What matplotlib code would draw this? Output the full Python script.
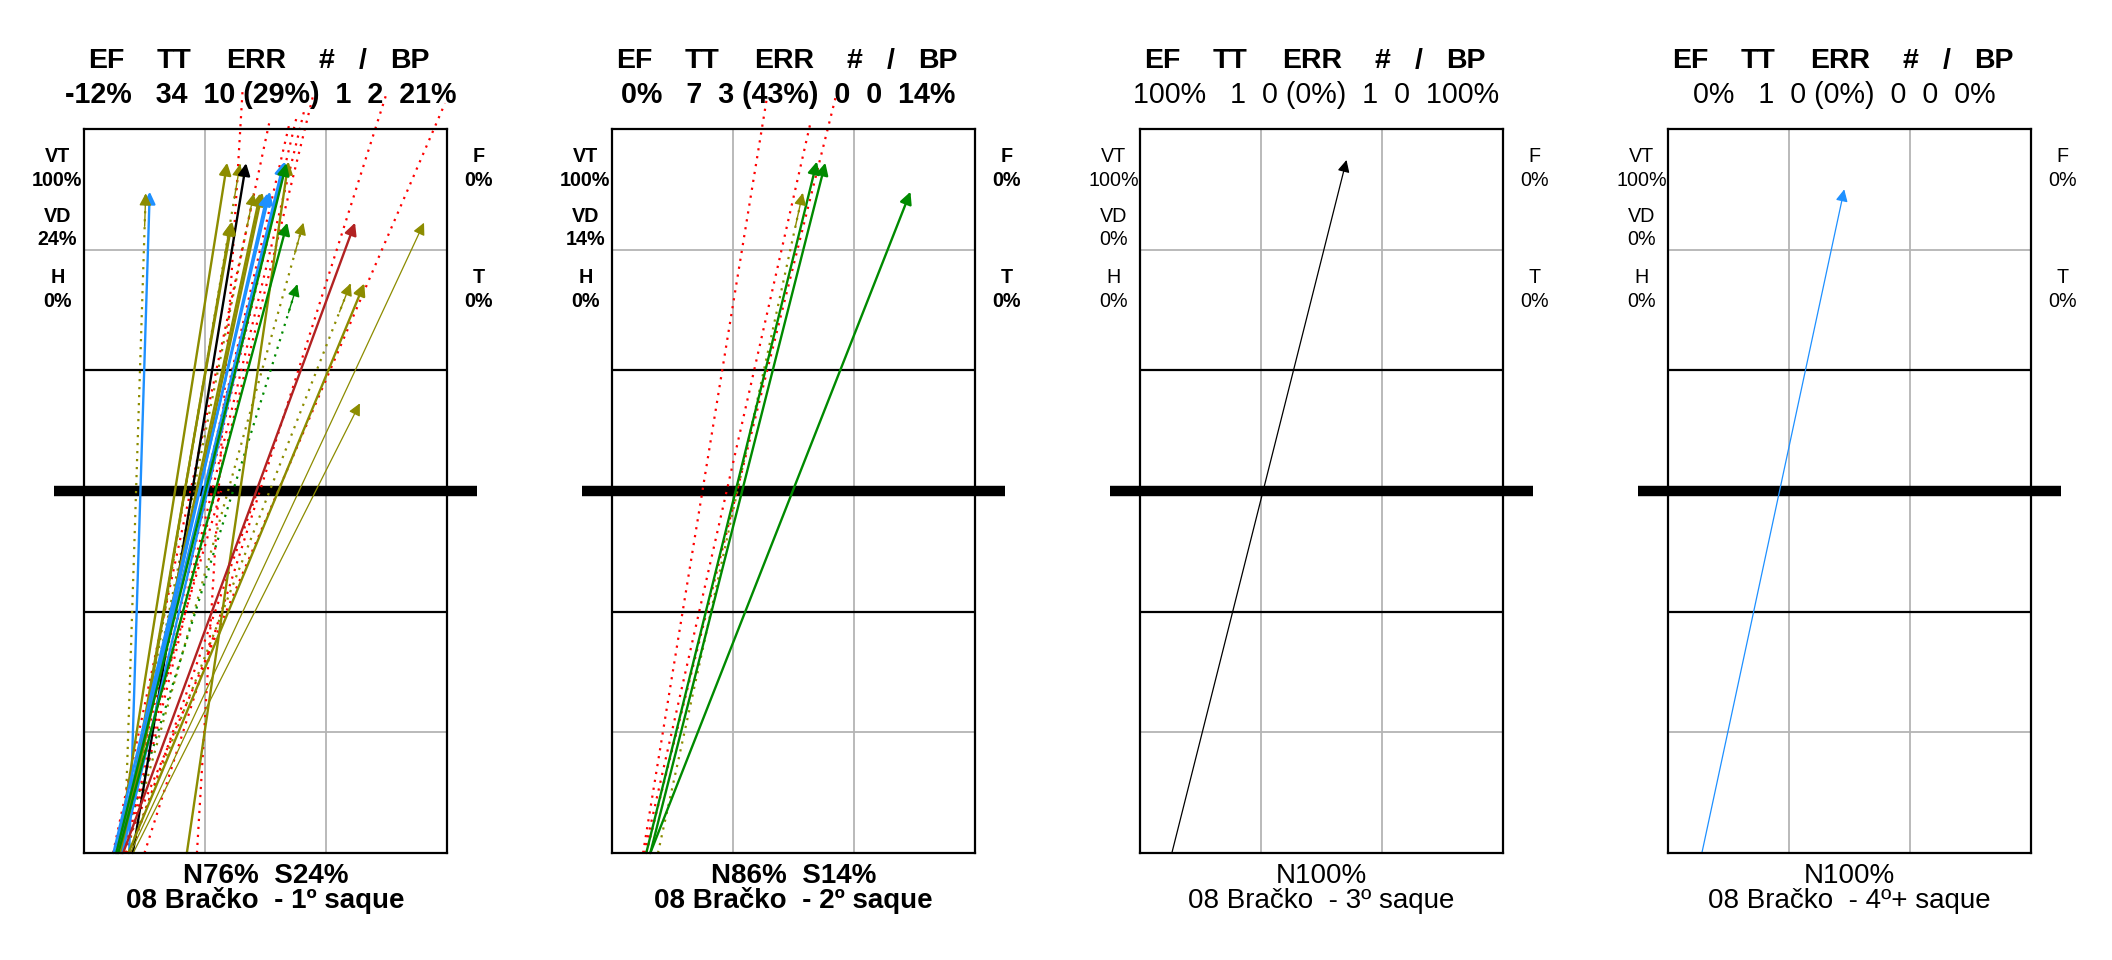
import matplotlib
matplotlib.use("Agg")
import matplotlib.pyplot as plt

plt.rcParams["font.family"] = ["Liberation Sans", "DejaVu Sans"]

PLAYER = "08 Bračko"
ROUNDS = ["1º", "2º", "3º", "4º+"]
HEADER = ["EF", "TT", "ERR", "#", "/", "BP"]
HEADER_X = [0.55, 2.24, 4.27, 6.00, 6.90, 8.07]
STATS = [
    "-12%   34  10 (29%)  1  2  21%",
    "0%   7  3 (43%)  0  0  14%",
    "100%   1  0 (0%)  1  0  100%",
    "0%   1  0 (0%)  0  0  0%",
]
VT = ["100%", "100%", "100%", "100%"]
VD = ["24%", "14%", "0%", "0%"]
H = ["0%", "0%", "0%", "0%"]
F = ["0%", "0%", "0%", "0%"]
T = ["0%", "0%", "0%", "0%"]
ZONES = ["N76%  S24%", "N86%  S14%", "N100%", "N100%"]
BOLD = [True, True, False, False]

# serves: start x on the baseline (m), end x / end y (m), result code, line kind
# codes: '#' ace, '/' , '+' , '!' , '-' , '=' error ; kind: S solid, D dotted, L light
S1_X0 = [1.12, 1.00, 0.83, 1.00, 1.21, 0.96, 0.92, 0.90, 0.86, 0.92, 0.73, 0.82,
         0.95, 0.78, 2.55, 0.80, 0.85, 1.05, 0.90, 0.97, 1.10, 1.10, 1.15, 1.22,
         2.80, 0.72, 0.89, 0.95, 1.00, 1.05, 1.50, 0.95, 0.75, 1.15]
S1_X1 = [1.63, 1.53, 3.55, 3.87, 4.02, 3.64, 3.67, 4.21, 4.37, 4.42, 4.61, 4.55,
         4.98, 4.95, 5.07, 5.02, 5.04, 5.44, 5.29, 6.72, 6.61, 6.95, 8.43, 6.84,
         3.93, 4.59, 5.09, 5.27, 5.48, 5.69, 7.51, 8.95, 3.40, 4.30]
S1_Y1 = [16.44, 16.40, 17.16, 17.13, 17.15, 15.67, 15.70, 16.40, 16.40, 16.42, 16.44, 16.40,
         17.19, 17.17, 17.19, 17.15, 15.67, 15.67, 14.14, 15.67, 14.16, 14.16, 15.67, 11.18,
         18.93, 18.14, 18.12, 18.29, 18.54, 18.87, 18.91, 18.64, 9.00, 9.00]
S1_CODE = ["!", "+", "+", "+", "#", "+", "+", "+", "+", "+", "!", "!",
           "!", "!", "+", "-", "-", "+", "-", "/", "+", "+", "+", "+",
           "=", "=", "=", "=", "=", "=", "=", "=", "=", "="]
S1_KIND = ["S", "D", "S", "D", "S", "S", "S", "D", "S", "S", "S", "S",
           "S", "S", "S", "S", "S", "D", "D", "S", "D", "S", "L", "L",
           "D", "D", "D", "D", "D", "D", "D", "D", "D", "D"]

S2_X0 = [0.77, 0.80, 0.85, 0.85, 0.95, 0.95, 1.14]
S2_X1 = [3.84, 4.92, 5.54, 5.08, 5.29, 7.40, 4.73]
S2_Y1 = [18.77, 18.15, 18.77, 17.19, 17.16, 16.44, 16.41]
S2_CODE = ["=", "=", "=", "-", "-", "-", "+"]
S2_KIND = ["D", "D", "D", "S", "S", "S", "D"]

S3_X0 = [0.79]
S3_X1 = [5.12]
S3_Y1 = [17.23]
S3_CODE = ["#"]
S3_KIND = ["L"]

S4_X0 = [0.84]
S4_X1 = [4.37]
S4_Y1 = [16.50]
S4_CODE = ["!"]
S4_KIND = ["L"]

SERVES = [
    (S1_X0, S1_X1, S1_Y1, S1_CODE, S1_KIND),
    (S2_X0, S2_X1, S2_Y1, S2_CODE, S2_KIND),
    (S3_X0, S3_X1, S3_Y1, S3_CODE, S3_KIND),
    (S4_X0, S4_X1, S4_Y1, S4_CODE, S4_KIND),
]

COLORS = {"#": "black", "+": "#8c8c00", "!": "#1e90ff", "-": "#008a00",
          "/": "#b22222", "=": "#ff0000"}
WIDTHS = {"S": 1.7, "D": 1.6, "L": 0.9}
DOTS = (0, (1, 2.6))
HEAD = "-|>,head_length=0.6,head_width=0.3"


def draw_court(ax):
    ax.set_xlim(0, 9)
    ax.set_ylim(0, 18)
    ax.set_xticks([])
    ax.set_yticks([])
    for spine in ax.spines.values():
        spine.set_linewidth(1.6)
        spine.set_color("black")
        spine.set_zorder(6)
    for x in (3, 6):
        ax.axvline(x, color="#b4b4b4", lw=1.3, zorder=1)
    for y in (3, 15):
        ax.axhline(y, color="#b4b4b4", lw=1.3, zorder=1)
    for y in (6, 12):
        ax.axhline(y, color="black", lw=1.6, zorder=2)
    ax.plot([-0.74, 9.74], [9, 9], color="black", lw=7.5, solid_capstyle="butt",
            clip_on=False, zorder=2)


def draw_serve(ax, x0, x1, y1, code, kind):
    color = COLORS[code]
    lw = WIDTHS[kind]
    if code == "=":
        ax.plot([x0, x1], [0, y1], color=color, lw=lw, ls=DOTS, clip_on=False, zorder=4)
        return
    if kind == "D":
        ax.plot([x0, x1], [0, y1], color=color, lw=lw, ls=DOTS, clip_on=False, zorder=4)
        back = (x1 - 0.05 * (x1 - x0), y1 - 0.05 * y1)
        ax.annotate("", xy=(x1, y1), xytext=back, annotation_clip=False,
                    arrowprops=dict(arrowstyle=HEAD, color=color, lw=1.0,
                                    shrinkA=0, shrinkB=0, mutation_scale=12), zorder=5)
    else:
        ax.annotate("", xy=(x1, y1), xytext=(x0, 0), annotation_clip=False,
                    arrowprops=dict(arrowstyle=HEAD, color=color, lw=lw,
                                    shrinkA=0, shrinkB=0, mutation_scale=12), zorder=5)


fig = plt.figure(figsize=(21.12, 9.6), dpi=100)
for i in range(4):
    left = (84 + 528 * i) / 2112
    ax = fig.add_axes([left, 107 / 960, 363 / 2112, 724 / 960])
    draw_court(ax)
    x0s, x1s, y1s, codes, kinds = SERVES[i]
    for x0, x1, y1, code, kind in zip(x0s, x1s, y1s, codes, kinds):
        draw_serve(ax, x0, x1, y1, code, kind)

    weight = "bold" if BOLD[i] else "normal"
    for label, x in zip(HEADER, HEADER_X):
        ax.text(x, 19.52, label, ha="center", va="baseline", fontsize=20.5,
                fontweight="bold", clip_on=False)
    ax.text(4.37, 18.65, STATS[i], ha="center", va="baseline", fontsize=20.6,
            fontweight=weight, clip_on=False)

    side = [("VT", 17.19, -0.66), (VT[i], 16.58, -0.66),
            ("VD", 15.70, -0.66), (VD[i], 15.12, -0.66),
            ("H", 14.16, -0.66), (H[i], 13.58, -0.66),
            ("F", 17.19, 9.79), (F[i], 16.58, 9.79),
            ("T", 14.16, 9.79), (T[i], 13.58, 9.79)]
    for label, y, x in side:
        ax.text(x, y, label, ha="center", va="baseline", fontsize=14.2,
                fontweight=weight, clip_on=False)

    ax.text(4.5, -0.75, ZONES[i], ha="center", va="baseline", fontsize=20,
            fontweight=weight, clip_on=False)
    ax.text(4.5, -1.36, f"{PLAYER}  - {ROUNDS[i]} saque", ha="center", va="baseline",
            fontsize=20, fontweight=weight, clip_on=False)

fig.savefig("out.png", dpi=100, facecolor="white")
